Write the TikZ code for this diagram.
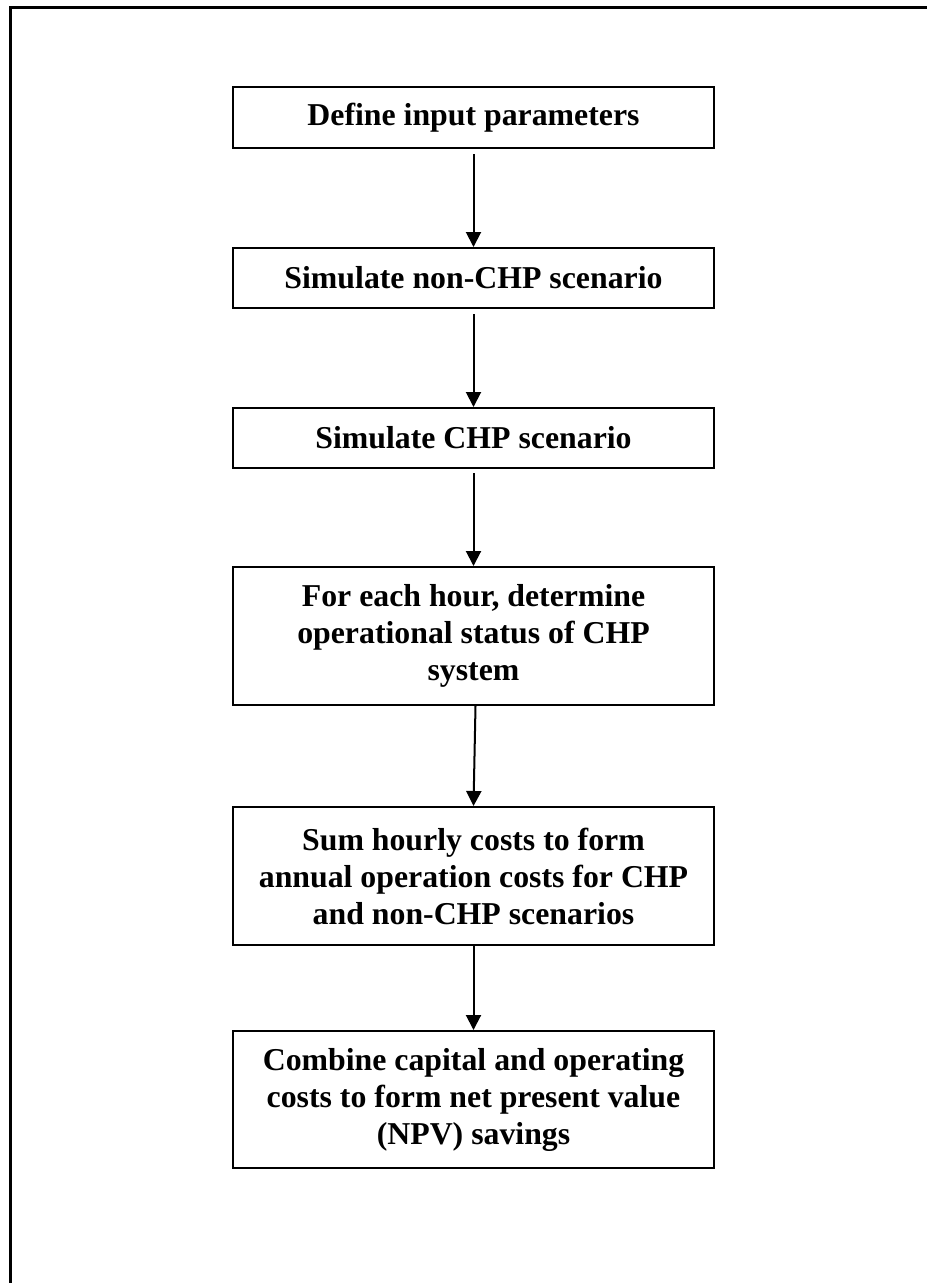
\documentclass[tikz,border=0pt]{standalone}
\usepackage{fontspec}
\setmainfont{Liberation Serif}
\usetikzlibrary{arrows.meta}
\begin{document}
\begin{tikzpicture}[x=1pt,y=-1pt,
  stepbox/.style={draw, line width=2pt, minimum width=481pt, inner sep=0pt,
    align=center, font=\fontsize{31.8}{37}\selectfont\bfseries},
  arr/.style={line width=2pt, -{Triangle[length=15pt,width=15pt]}},
  frameline/.style={line width=3pt}]
\useasboundingbox (0,0) rectangle (927,1283);
\coordinate (fTL) at (10,7.5);
\coordinate (fTR) at (927,7.5);
\coordinate (fBL) at (10,1283);
\draw[frameline] (fBL) -- (fTL) -- (fTR);
\node[stepbox, minimum height=61pt] (b1) at (473.5,117.5) {Define input parameters};
\node[stepbox, minimum height=60pt] (b2) at (473.5,278) {Simulate non-CHP scenario};
\node[stepbox, minimum height=60pt] (b3) at (473.5,438) {Simulate CHP scenario};
\node[stepbox, minimum height=138pt] (b4) at (473.5,636) {For each hour, determine\\operational status of CHP\\system};
\node[stepbox, minimum height=138pt] (b5) at (473.5,876) {Sum hourly costs to form\\annual operation costs for CHP\\and non-CHP scenarios};
\node[stepbox, minimum height=137pt] (b6) at (473.5,1099.5) {Combine capital and operating\\costs to form net present value\\(NPV) savings};
\draw[arr, shorten <=5pt] (b1) -- (b2);
\draw[arr, shorten <=5pt] (b2) -- (b3);
\draw[arr, shorten <=4pt] (b3) -- (b4);
\draw[arr] ([xshift=2pt]b4.south) -- (b5.north);
\draw[arr] (b5) -- (b6);
\end{tikzpicture}
\end{document}
